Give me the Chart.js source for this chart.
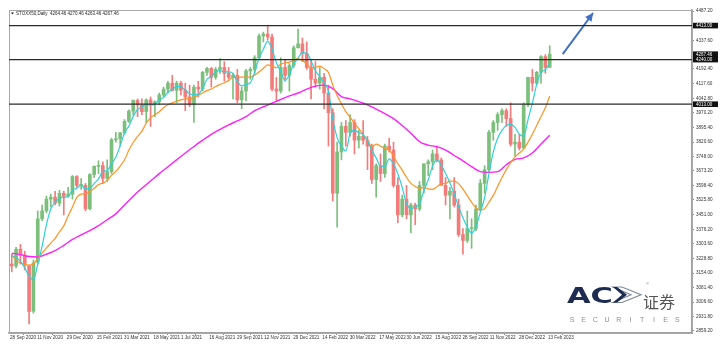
<!DOCTYPE html>
<html><head><meta charset="utf-8">
<script src="https://cdn.jsdelivr.net/npm/chart.js@4.4.1/dist/chart.umd.min.js"></script>
<style>html,body{margin:0;padding:0;background:#fff;}canvas{display:block;}</style>
</head><body>
<canvas id="c" width="720" height="351"></canvas>
<script>
// ---------- DATA (weekly candles, week 0 = week of 28 Sep 2020) ----------
const openV = [3200,3190,3275,3245,3190,2960,3210,3430,3470,3530,3540,3510,3560,3545,3555,3645,3600,3600,3481,3655,3697,3700,3636,3670,3832,3837,3867,3926,3978,4032,4009,3975,4035,4017,4025,4060,4090,4120,4083,4120,4085,4050,4010,4100,4090,4175,4195,4150,4190,4200,4170,4150,4160,4035,4080,4182,4190,4250,4360,4370,4355,4090,4080,4200,4160,4210,4300,4320,4270,4200,4140,4120,4150,4070,3970,3560,3770,3900,3870,3920,3830,3850,3830,3800,3630,3700,3660,3800,3780,3600,3450,3530,3450,3500,3480,3600,3710,3720,3760,3730,3600,3550,3570,3500,3350,3320,3380,3380,3480,3610,3680,3870,3920,3960,3980,3940,3810,3820,3790,4010,4150,4120,4175,4255,4200];
const highV = [3250,3285,3300,3265,3195,3220,3470,3500,3545,3555,3570,3575,3570,3590,3650,3650,3635,3610,3660,3700,3725,3720,3730,3840,3870,3870,3935,3985,4035,4040,4040,4040,4050,4030,4070,4100,4130,4160,4130,4130,4120,4110,4110,4130,4180,4200,4200,4200,4245,4230,4200,4170,4190,4100,4190,4200,4260,4370,4380,4415,4370,4150,4250,4240,4220,4310,4395,4350,4330,4240,4230,4200,4170,4110,3990,3820,3920,3930,3960,3935,3880,3930,3850,3810,3710,3760,3810,3840,3820,3640,3550,3600,3510,3510,3620,3710,3730,3780,3800,3740,3640,3590,3640,3530,3380,3470,3430,3500,3630,3700,3880,3930,3970,3990,3990,4020,3860,3860,4020,4150,4190,4180,4260,4265,4310];
const lowV = [3160,3180,3200,3170,2895,2950,3200,3420,3460,3490,3500,3495,3450,3540,3530,3590,3580,3470,3475,3640,3660,3610,3620,3660,3820,3800,3860,3920,3960,3950,3960,3920,3900,3950,4010,4050,4070,4080,4020,4060,3980,4000,3920,4050,4080,4160,4100,4140,4170,4130,4140,4040,4020,3990,4030,4140,4170,4245,4330,4340,4080,4030,4070,4130,4080,4200,4300,4230,4190,4040,4100,4090,3990,3800,3520,3387,3730,3800,3850,3760,3790,3810,3680,3610,3540,3620,3640,3770,3590,3410,3440,3430,3360,3400,3470,3560,3650,3680,3720,3600,3500,3430,3490,3340,3250,3310,3280,3370,3470,3560,3670,3830,3880,3920,3900,3800,3750,3780,3790,4000,4080,4110,4120,4170,4200];
const closeV = [3190,3275,3245,3195,2958,3205,3430,3470,3530,3540,3510,3560,3545,3555,3645,3600,3602,3481,3655,3697,3700,3636,3670,3832,3837,3867,3926,3978,4032,4009,3975,4035,4017,4025,4060,4090,4120,4083,4120,4085,4050,4010,4100,4090,4175,4195,4150,4190,4200,4170,4150,4160,4035,4080,4182,4190,4250,4360,4370,4355,4090,4080,4200,4160,4210,4300,4320,4270,4200,4140,4120,4150,4070,3970,3560,3770,3900,3870,3920,3830,3850,3830,3800,3630,3700,3660,3800,3780,3600,3450,3530,3450,3500,3480,3600,3710,3720,3760,3730,3600,3550,3570,3500,3350,3320,3380,3380,3480,3610,3680,3870,3920,3960,3980,3940,3810,3820,3790,4010,4150,4120,4175,4255,4200,4267.46];
// moving averages (weekly)
const cyanMA = [3245,3230,3215,3180,3140,3120,3200,3290,3400,3480,3513,3535,3539,3543,3576,3586,3601,3582,3585,3609,3633,3672,3676,3710,3744,3802,3866,3902,3951,3986,3999,4013,4009,4013,4034,4048,4074,4088,4103,4102,4085,4066,4061,4063,4094,4140,4153,4178,4184,4178,4178,4170,4129,4106,4114,4122,4176,4246,4293,4334,4294,4224,4181,4133,4163,4218,4248,4275,4273,4233,4183,4153,4120,4078,3938,3843,3800,3775,3865,3880,3868,3858,3828,3778,3740,3698,3698,3735,3710,3658,3590,3508,3483,3490,3508,3573,3628,3698,3730,3703,3660,3613,3555,3493,3435,3388,3358,3390,3463,3538,3660,3770,3840,3880,3905,3910,3895,3860,3850,3935,4018,4114,4175,4188,4224];
const orangeMA = [3245,3222,3204,3198,3194,3200,3228,3255,3282,3306,3330,3364,3394,3445,3490,3539,3556,3557,3569,3585,3604,3612,3624,3652,3671,3698,3730,3780,3818,3849,3876,3916,3945,3960,3975,3995,4010,4020,4028,4035,4040,4040,4048,4058,4070,4082,4090,4103,4113,4122,4133,4150,4150,4151,4151,4151,4161,4178,4195,4213,4207,4199,4216,4224,4227,4238,4245,4236,4219,4197,4200,4207,4194,4175,4110,4057,4015,3975,3947,3916,3889,3857,3830,3796,3810,3799,3789,3780,3748,3710,3678,3640,3610,3595,3585,3590,3582,3580,3593,3608,3610,3622,3622,3609,3581,3548,3514,3486,3474,3482,3514,3549,3595,3640,3680,3715,3745,3765,3785,3820,3860,3905,3950,3995,4055];
// magenta MA, every second week
const magentaMA = [3255,3248,3238,3236,3250,3268,3295,3325,3348,3370,3395,3425,3455,3500,3545,3585,3622,3660,3695,3730,3765,3798,3830,3860,3885,3908,3928,3950,3980,4000,4018,4037,4055,4070,4090,4105,4110,4092,4052,4040,4026,4010,3988,3965,3940,3905,3865,3822,3805,3797,3780,3752,3725,3695,3670,3666,3670,3705,3732,3740,3765,3810,3855];
const hLevels = [4413.00, 4240.00, 4013.00];
const lastPrice = 4267.46;
const arrowFrom = {x:127.4, y:4268};
const arrowTo = {x:134.4, y:4477};
const xTickLabels = ["28 Sep 2020","11 Nov 2020","29 Dec 2020","15 Feb 2021","31 Mar 2021","18 May 2021","1 Jul 2021","16 Aug 2021","29 Sep 2021","12 Nov 2021","29 Dec 2021","14 Feb 2022","30 Mar 2022","17 May 2022","30 Jun 2022","15 Aug 2022","28 Sep 2022","11 Nov 2022","28 Dec 2022","13 Feb 2023"];
const xTickWeeks = [0,6.3,13.1,20.0,26.3,33.1,39.4,45.9,52.3,58.6,65.3,72.0,78.3,85.1,91.4,98.0,104.3,110.6,117.3,124.0];
const yTickLabels = [4487.20,4412.40,4337.60,4262.80,4192.40,4117.60,4042.80,3970.20,3895.40,3820.60,3748.00,3673.20,3598.40,3525.80,3451.00,3376.20,3303.60,3228.80,3154.00,3081.40,3006.60,2931.80,2859.20];
const headerText = "STOXX50,Daily  4264.46 4270.46 4263.46 4267.46";

// ---------- build ----------
const GREEN = '#7cbf7c', RED = '#f27c7c';
const cx = closeV.map((_, i) => i + 0.4);
const isUp = closeV.map((c, i) => c >= openV[i]);
const candleColors = isUp.map(u => u ? GREEN : RED);
const wickData = cx.map((x, i) => ({x, y: [lowV[i], highV[i]]}));
const bodyData = cx.map((x, i) => ({x, y: [Math.min(openV[i], closeV[i]), Math.max(openV[i], closeV[i])]}));
const cyanData = cyanMA.map((v, i) => ({x: i + 0.4, y: v}));
const orangeData = orangeMA.map((v, i) => ({x: i + 0.4, y: v}));
const magentaData = magentaMA.map((v, i) => ({x: 2 * i + 0.4, y: v}));
const X_MIN = -0.23, X_MAX = 157.2, Y_MIN = 2849.0, Y_MAX = 4492.3;
const hLineSets = hLevels.map(v => ({
  type: 'line', data: [{x: X_MIN, y: v}, {x: X_MAX, y: v}], borderColor: '#2b2b2b', borderWidth: 1.3,
  pointRadius: 0, order: 0
}));
const FONT = 'Liberation Sans';

const overlay = {
  id: 'overlay',
  beforeDatasetsDraw(chart) {
    const {ctx, chartArea: a} = chart;
    ctx.save();
    ctx.strokeStyle = '#a9a9a9'; ctx.lineWidth = 1;
    ctx.strokeRect(a.left + 0.5, a.top + 0.5, a.right - a.left, a.bottom - a.top);
    ctx.restore();
  },
  afterDraw(chart) {
    const {ctx, chartArea: a, scales: {x, y}} = chart;
    ctx.save();
    // header
    ctx.fillStyle = '#222';
    ctx.beginPath(); ctx.moveTo(11, 12.5); ctx.lineTo(14, 12.5); ctx.lineTo(12.5, 14.5); ctx.closePath(); ctx.fill();
    ctx.font = '4.5px "' + FONT + '"'; ctx.textBaseline = 'middle'; ctx.textAlign = 'left';
    ctx.fillText(headerText, 16, 13.5);
    // arrow head
    const x1 = x.getPixelForValue(arrowFrom.x), y1 = y.getPixelForValue(arrowFrom.y);
    const x2 = x.getPixelForValue(arrowTo.x), y2 = y.getPixelForValue(arrowTo.y);
    const ang = Math.atan2(y2 - y1, x2 - x1), L = 8, W = 4;
    ctx.fillStyle = '#4070c4';
    ctx.beginPath();
    ctx.moveTo(x2, y2);
    ctx.lineTo(x2 - L * Math.cos(ang) + W * Math.sin(ang), y2 - L * Math.sin(ang) - W * Math.cos(ang));
    ctx.lineTo(x2 - L * Math.cos(ang) - W * Math.sin(ang), y2 - L * Math.sin(ang) + W * Math.cos(ang));
    ctx.closePath(); ctx.fill();
    // price boxes on axis
    const boxes = [hLevels[0], lastPrice, hLevels[1], hLevels[2]];
    ctx.font = '4.5px "' + FONT + '"';
    boxes.forEach(v => {
      const py = y.getPixelForValue(v);
      ctx.fillStyle = '#111';
      ctx.fillRect(a.right + 1, py - 2.8, 25, 5.6);
      ctx.fillStyle = '#fff';
      ctx.fillText(v.toFixed(2), a.right + 4, py + 0.2);
    });
    // logo
    ctx.fillStyle = '#1c2b4f';
    ctx.save();
    ctx.translate(567, 302.5);
    ctx.scale(1.45, 1);
    ctx.font = 'bold 21px "DejaVu Sans"';
    ctx.textBaseline = 'alphabetic';
    ctx.fillText('AC', 0, 0);
    ctx.restore();
    // chevron
    ctx.beginPath();
    ctx.moveTo(613, 287); ctx.lineTo(622, 287); ctx.lineTo(641, 294.8); ctx.lineTo(622, 302.5); ctx.lineTo(613, 302.5); ctx.lineTo(631, 294.8); ctx.closePath();
    ctx.fillStyle = '#ffffff'; ctx.fill();
    ctx.strokeStyle = '#7d879c'; ctx.lineWidth = 1.2; ctx.stroke();
    ctx.beginPath();
    ctx.moveTo(613, 287); ctx.lineTo(617, 287); ctx.lineTo(627, 294.8); ctx.lineTo(617, 302.5); ctx.lineTo(613, 302.5); ctx.lineTo(622, 294.8); ctx.closePath();
    ctx.fillStyle = '#1c2b4f'; ctx.fill();
    ctx.fillStyle = '#777';
    ctx.font = '4px "' + FONT + '"';
    ctx.fillText('®', 646, 284);
    ctx.fillStyle = '#555';
    ctx.font = '16px "Noto Sans CJK SC"';
    ctx.textBaseline = 'alphabetic';
    ctx.fillText('证券', 643, 308);
    ctx.fillStyle = '#8a8f98';
    ctx.font = '7px "' + FONT + '"';
    ctx.textBaseline = 'middle';
    const word = 'SECURITIES';
    for (let i = 0; i < word.length; i++) {
      ctx.textAlign = 'center';
      ctx.fillText(word[i], 572 + i * 11.7, 320.5);
    }
    ctx.restore();
  }
};

new Chart(document.getElementById('c'), {
  type: 'bar',
  data: {
    datasets: [
      {type: 'bar', label: 'wick', data: wickData, backgroundColor: candleColors, barThickness: 1, grouped: false, order: 6},
      {type: 'bar', label: 'body', data: bodyData, backgroundColor: candleColors, barThickness: 3, grouped: false, minBarLength: 1, order: 5},
      {type: 'line', label: 'ma200', data: magentaData, borderColor: '#ff1fff', borderWidth: 1.4, pointRadius: 0, cubicInterpolationMode: 'monotone', order: 3},
      {type: 'line', label: 'ma50', data: orangeData, borderColor: '#ff9422', borderWidth: 1.2, pointRadius: 0, cubicInterpolationMode: 'monotone', order: 2},
      {type: 'line', label: 'ma20', data: cyanData, borderColor: '#2fd0dc', borderWidth: 1.2, pointRadius: 0, cubicInterpolationMode: 'monotone', order: 1},
      ...hLineSets,
      {type: 'line', label: 'arrow', data: [arrowFrom, arrowTo], borderColor: '#4070c4', borderWidth: 2, pointRadius: 0, order: 0}
    ]
  },
  options: {
    responsive: false, animation: false, devicePixelRatio: 1,
    layout: {padding: {left: 9, top: 10, right: 0, bottom: 0}},
    plugins: {legend: {display: false}, tooltip: {enabled: false}},
    events: [],
    scales: {
      x: {
        type: 'linear', min: X_MIN, max: X_MAX, offset: false,
        afterBuildTicks: s => { s.ticks = xTickWeeks.map(v => ({value: v})); },
        afterFit: s => { s.height = 18; },
        ticks: {autoSkip: false, maxRotation: 0, minRotation: 0, align: 'start', padding: 0,
          font: {size: 4.6, family: FONT}, color: '#333',
          callback: (v, i) => xTickLabels[i]},
        grid: {drawOnChartArea: false, drawTicks: true, tickLength: 2, color: '#888'},
        border: {display: true, color: '#a0a0a0', width: 1.5}
      },
      y: {
        type: 'linear', position: 'right', min: Y_MIN, max: Y_MAX,
        afterBuildTicks: s => { s.ticks = yTickLabels.map(v => ({value: v})); },
        afterFit: s => { s.width = 28; },
        ticks: {autoSkip: false, padding: 2, font: {size: 4.6, family: FONT}, color: '#333',
          callback: v => Number(v).toFixed(2)},
        grid: {drawOnChartArea: false, drawTicks: true, tickLength: 2, color: '#888'},
        border: {display: true, color: '#a0a0a0', width: 1.5}
      }
    }
  },
  plugins: [overlay]
});
</script>
</body></html>
